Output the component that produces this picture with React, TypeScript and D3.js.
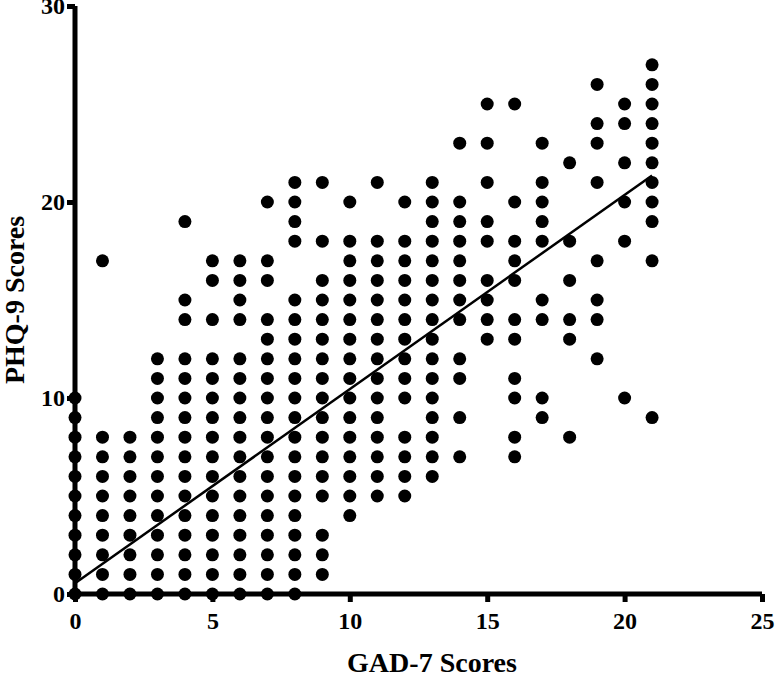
import React, { useEffect, useRef } from 'react';
import * as d3 from 'd3';

// GAD-7 score on the x axis, PHQ-9 scores seen at each GAD-7 score
const gadScores = [0, 1, 2, 3, 4, 5, 6, 7, 8, 9, 10, 11, 12, 13, 14, 15, 16, 17, 18, 19, 20, 21];
const phqByGad = [
  [0, 1, 2, 3, 4, 5, 6, 7, 8, 9, 10],
  [0, 1, 2, 3, 4, 5, 6, 7, 8, 17],
  [0, 1, 2, 3, 4, 5, 6, 7, 8],
  [0, 1, 2, 3, 4, 5, 6, 7, 8, 9, 10, 11, 12],
  [0, 1, 2, 3, 4, 5, 6, 7, 8, 9, 10, 11, 12, 14, 15, 19],
  [0, 1, 2, 3, 4, 5, 6, 7, 8, 9, 10, 11, 12, 14, 16, 17],
  [0, 1, 2, 3, 4, 5, 6, 7, 8, 9, 10, 11, 12, 14, 15, 16, 17],
  [0, 1, 2, 3, 4, 5, 6, 7, 8, 9, 10, 11, 12, 13, 14, 16, 17, 20],
  [0, 1, 2, 3, 4, 5, 6, 7, 8, 9, 10, 11, 12, 13, 14, 15, 18, 19, 20, 21],
  [1, 2, 3, 5, 6, 7, 8, 9, 10, 11, 12, 13, 14, 15, 16, 18, 21],
  [4, 5, 6, 7, 8, 9, 10, 11, 12, 13, 14, 15, 16, 17, 18, 20],
  [5, 6, 7, 8, 9, 10, 11, 12, 13, 14, 15, 16, 17, 18, 21],
  [5, 6, 7, 8, 10, 11, 12, 13, 14, 15, 16, 17, 18, 20],
  [6, 7, 8, 9, 10, 11, 12, 13, 14, 15, 16, 17, 18, 19, 20, 21],
  [7, 9, 11, 12, 14, 15, 16, 17, 18, 19, 20, 23],
  [13, 14, 15, 16, 18, 19, 21, 23, 25],
  [7, 8, 10, 11, 13, 14, 16, 17, 18, 20, 25],
  [9, 10, 14, 15, 18, 19, 20, 21, 23],
  [8, 13, 14, 16, 18, 22],
  [12, 14, 15, 17, 21, 23, 24, 26],
  [10, 18, 20, 22, 24, 25],
  [9, 17, 19, 20, 21, 22, 23, 24, 25, 26, 27],
];

// fitted line end points
const fitX = [0, 21];
const fitY = [0.55, 21.35];

const xTicks = [0, 5, 10, 15, 20, 25];
const yTicks = [0, 10, 20, 30];

const W = 784;
const H = 679;

const App = () => {
  const svgRef = useRef<SVGSVGElement>(null);

  useEffect(() => {
    const svg = d3.select(svgRef.current);
    svg.selectAll('*').remove();

    const font = '"Liberation Serif", "Times New Roman", serif';

    const x = d3.scaleLinear().domain([0, 25]).range([75, 762]);
    const y = d3.scaleLinear().domain([0, 30]).range([594, 6]);

    const points = gadScores.flatMap((g, i) => phqByGad[i].map(p => ({ g, p })));

    // axes
    const xAxis = svg.append('g')
      .attr('transform', `translate(0,${y(0)})`)
      .call(d3.axisBottom(x).tickValues(xTicks).tickSize(8).tickPadding(10).tickSizeOuter(0));
    const yAxis = svg.append('g')
      .attr('transform', `translate(${x(0)},0)`)
      .call(d3.axisLeft(y).tickValues(yTicks).tickSize(8).tickPadding(2).tickSizeOuter(0));

    [xAxis, yAxis].forEach(ax => {
      ax.select('.domain').attr('stroke', '#000').attr('stroke-width', 5);
      ax.selectAll('.tick line').attr('stroke', '#000').attr('stroke-width', 5);
      ax.selectAll('.tick text')
        .attr('fill', '#000')
        .style('font-family', font)
        .style('font-weight', 'bold')
        .style('font-size', '24px');
    });
    xAxis.select('.domain').attr('d', `M${x(0) - 2.5},0H${x(25)}`);
    yAxis.select('.domain').attr('d', `M0,${y(0) + 2.5}V${y(30)}`);

    // dots
    svg.append('g')
      .selectAll('circle')
      .data(points)
      .enter().append('circle')
      .attr('cx', d => x(d.g))
      .attr('cy', d => y(d.p))
      .attr('r', 6.5)
      .attr('fill', '#000');

    // fitted line
    const line = d3.line<number>()
      .x((d, i) => x(fitX[i]))
      .y(d => y(d));
    svg.append('path')
      .attr('d', line(fitY))
      .attr('fill', 'none')
      .attr('stroke', '#000')
      .attr('stroke-width', 2.5);

    // axis titles
    svg.append('text')
      .attr('x', 432)
      .attr('y', 672)
      .attr('text-anchor', 'middle')
      .style('font-family', font)
      .style('font-weight', 'bold')
      .style('font-size', '28px')
      .text('GAD-7 Scores');

    svg.append('text')
      .attr('transform', 'translate(24,300) rotate(-90)')
      .attr('text-anchor', 'middle')
      .style('font-family', font)
      .style('font-weight', 'bold')
      .style('font-size', '28px')
      .text('PHQ-9 Scores');
  }, []);

  return (
    <svg
      ref={svgRef}
      width={W}
      height={H}
      style={{ position: 'absolute', left: 0, top: 0, background: '#fff' }}
    />
  );
};

export default App;
